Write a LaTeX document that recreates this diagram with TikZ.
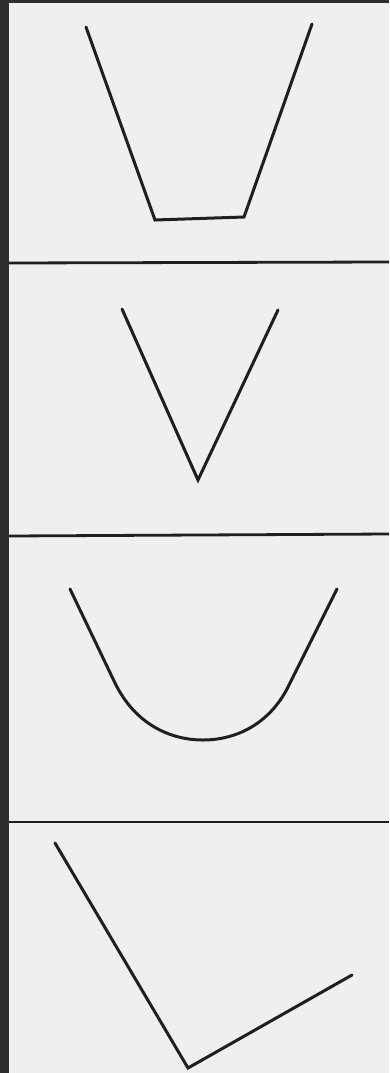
\documentclass[tikz,border=0pt]{standalone}
\begin{document}
\begin{tikzpicture}[x=1pt,y=-1pt,
  stroke/.style={line width=3pt,draw=black!88,line join=miter,line cap=round},
  divider/.style={line width=2.8pt,draw=black!88}]
\definecolor{bg}{HTML}{EFEFEF}
\definecolor{strip}{HTML}{2E2E2E}
\useasboundingbox (0,0) rectangle (389,1073);
\fill[strip] (0,0) rectangle (389,1073);
\fill[bg] (9,3) rectangle (389,1073);
% dividers
\coordinate (d1a) at (9,263); \coordinate (d1b) at (389,262);
\coordinate (d2a) at (9,536); \coordinate (d2b) at (389,534);
\coordinate (d3a) at (9,822); \coordinate (d3b) at (389,822);
\draw[divider] (d1a) -- (d1b);
\draw[divider] (d2a) -- (d2b);
\draw[divider] (d3a) -- (d3b);
% trapezoid
\coordinate (t1) at (86,27); \coordinate (t2) at (155,220);
\coordinate (t3) at (244,217); \coordinate (t4) at (312,24);
\draw[stroke] (t1) -- (t2) -- (t3) -- (t4);
% V
\coordinate (v1) at (122,309); \coordinate (v2) at (198,480); \coordinate (v3) at (278,310);
\draw[stroke] (v1) -- (v2) -- (v3);
% U
\coordinate (u1) at (70,589); \coordinate (u2) at (115,683); \coordinate (u3) at (203,740);
\coordinate (u4) at (290,683); \coordinate (u5) at (337,589);
\draw[stroke] (u1) -- (u2) .. controls (135,724) and (170,740) .. (u3)
  .. controls (236,740) and (271,724) .. (u4) -- (u5);
% L
\coordinate (l1) at (55,843); \coordinate (l2) at (188,1068); \coordinate (l3) at (352,975);
\draw[stroke] (l1) -- (l2) -- (l3);
\end{tikzpicture}
\end{document}
